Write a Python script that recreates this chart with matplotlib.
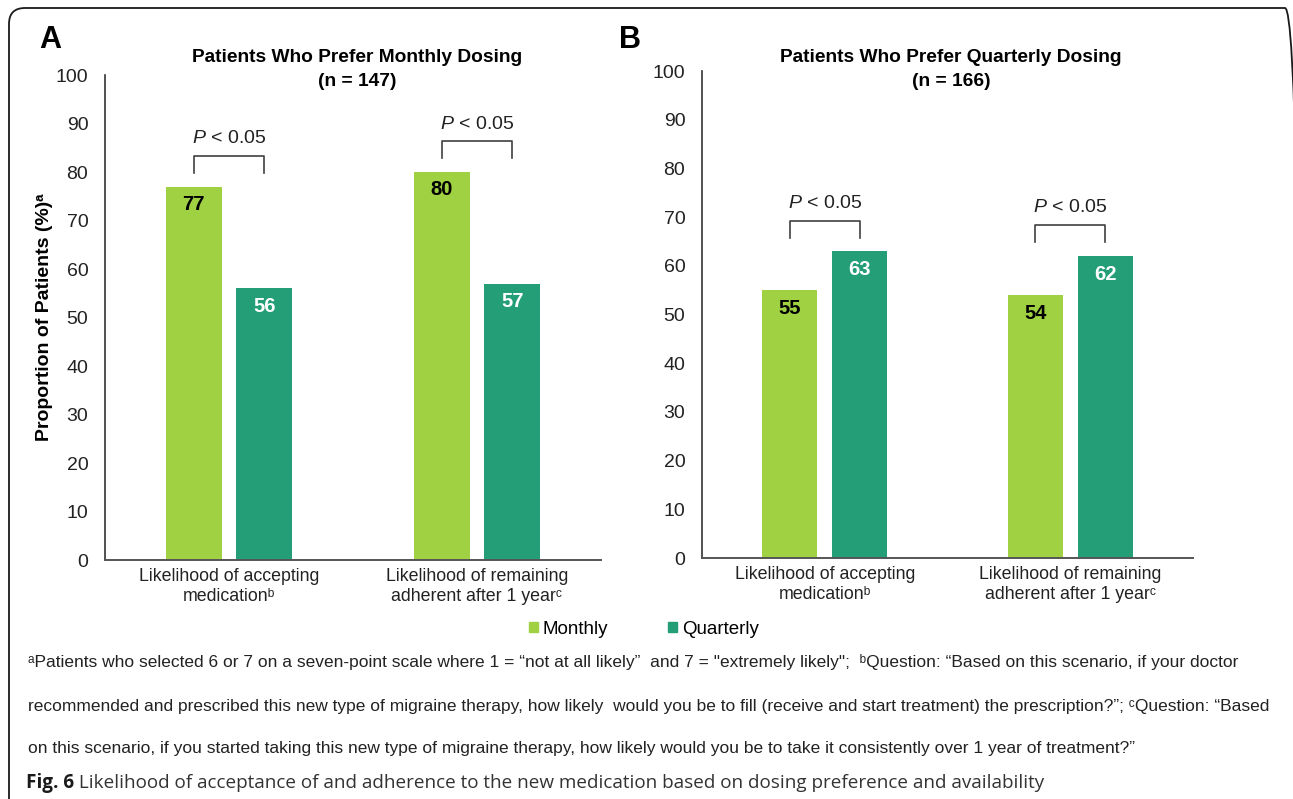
import numpy as np
import matplotlib
matplotlib.use("Agg")
from matplotlib import pyplot as plt
from matplotlib.patches import FancyBboxPatch

NARROW = ["Liberation Sans Narrow", "Liberation Sans", "DejaVu Sans"]
plt.rcParams["font.family"] = NARROW
plt.rcParams["mathtext.fontset"] = "custom"
plt.rcParams["mathtext.rm"] = "Liberation Sans"
plt.rcParams["mathtext.it"] = "Liberation Sans:italic"

categories = ["Likelihood of accepting\nmedication\u1d47",
              "Likelihood of remaining\nadherent after 1 year\u1d9c"]
series_names = ["Monthly", "Quarterly"]

# Panel A: patients who prefer monthly dosing
monthly_group_monthly = [77, 80]
monthly_group_quarterly = [56, 57]
# Panel B: patients who prefer quarterly dosing
quarterly_group_monthly = [55, 54]
quarterly_group_quarterly = [63, 62]

titles = [("Patients Who Prefer Monthly Dosing", "(n = 147)"),
          ("Patients Who Prefer Quarterly Dosing", "(n = 166)")]
panel_letters = ["A", "B"]
p_text = r"$\mathit{P}$ < 0.05"

footnotes = [
    "\u1d43Patients who selected 6 or 7 on a seven-point scale where 1 = \u201cnot at all likely\u201d  and 7 = \"extremely likely\";  "
    "\u1d47Question: \u201cBased on this scenario, if your doctor",
    "recommended and prescribed this new type of migraine therapy, how likely  would you be to fill (receive and start treatment) "
    "the prescription?\u201d; \u1d9cQuestion: \u201cBased",
    "on this scenario, if you started taking this new type of migraine therapy, how likely would you be to take it consistently "
    "over 1 year of treatment?\u201d",
]
caption_bold = "Fig. 6"
caption_rest = " Likelihood of acceptance of and adherence to the new medication based on dosing preference and availability"

C_MONTHLY = "#9fd142"
C_QUARTERLY = "#239e76"
AXIS_C = "#555555"

W, H = 1293, 799
fig = plt.figure(figsize=(W / 100, H / 100), dpi=100, facecolor="white")

# rounded frame around the whole figure (bottom and right edge run off the canvas)
frame = FancyBboxPatch((0.09, -0.5), 12.92, 8.41,
                       boxstyle="round,pad=0,rounding_size=0.16",
                       transform=fig.dpi_scale_trans, fill=False,
                       ec="#1a1a1a", lw=1.3, clip_on=False)
fig.add_artist(frame)

panels = [
    ([0.0812, 0.2991, 0.3836, 0.6070], monthly_group_monthly, monthly_group_quarterly, 357),
    ([0.5429, 0.3016, 0.3798, 0.6095], quarterly_group_monthly, quarterly_group_quarterly, 951),
]

x = np.arange(len(categories))
width = 0.225
offset = 0.142

for i, (rect, vals_m, vals_q, title_x) in enumerate(panels):
    ax = fig.add_axes(rect)
    ax.bar(x - offset, vals_m, width, color=C_MONTHLY, label=series_names[0])
    ax.bar(x + offset, vals_q, width, color=C_QUARTERLY, label=series_names[1])
    ax.set_xlim(-0.5, 1.5)
    ax.set_ylim(0, 100)
    ax.set_yticks(range(0, 101, 10))
    ax.set_xticks(x)
    ax.set_xticklabels(categories, fontsize=12.8, linespacing=1.2, color="#222222")
    ax.tick_params(axis="y", length=0, pad=12, labelsize=14, labelcolor="#222222")
    ax.tick_params(axis="x", length=0, pad=6)
    for s in ("top", "right"):
        ax.spines[s].set_visible(False)
    ax.spines["left"].set_color("#333333")
    ax.spines["bottom"].set_color(AXIS_C)
    ax.spines["left"].set_linewidth(1.2)
    ax.spines["bottom"].set_linewidth(1.4)

    # two-line panel title
    for line, ypx in zip(titles[i], (58, 82)):
        fig.text(title_x / W, 1 - ypx / H, line, fontsize=13.8, fontweight="bold",
                 ha="center", va="center")

    # value labels inside the bars
    for xi, v in zip(x - offset, vals_m):
        ax.text(xi, v - 3.7, f"{v}", ha="center", va="center",
                fontsize=14.5, fontweight="bold", color="black")
    for xi, v in zip(x + offset, vals_q):
        ax.text(xi, v - 3.7, f"{v}", ha="center", va="center",
                fontsize=14.5, fontweight="bold", color="white")

    # significance brackets
    for xi, a, b in zip(x, vals_m, vals_q):
        top = max(a, b) + 6.3
        leg = top - 3.5
        ax.plot([xi - offset, xi - offset, xi + offset, xi + offset],
                [leg, top, top, leg], color="#404040", lw=1.2, clip_on=False)
        ax.text(xi, top + 3.6, p_text, ha="center", va="center", fontsize=14,
                color="#222222")

    if i == 0:
        ax.set_ylabel("Proportion of Patients (%)\u1d43", fontsize=14, fontweight="bold",
                      labelpad=2)

# panel letters
fig.text(39 / W, 1 - 40 / H, panel_letters[0], fontsize=22, fontweight="bold",
         family="Liberation Sans", va="center", ha="left")
fig.text(619 / W, 1 - 40 / H, panel_letters[1], fontsize=22, fontweight="bold",
         family="Liberation Sans", va="center", ha="left")

# shared legend
handles = [plt.Rectangle((0, 0), 1, 1, color=C_MONTHLY),
           plt.Rectangle((0, 0), 1, 1, color=C_QUARTERLY)]
fig.legend(handles, series_names, loc="center", bbox_to_anchor=(644 / W, 1 - 629 / H),
           ncol=2, frameon=False, fontsize=13.5, handlelength=0.48, handleheight=0.48,
           handletextpad=0.25, columnspacing=3.2)

# footnotes
for line, ypx in zip(footnotes, [662, 706, 748]):
    fig.text(28 / W, 1 - ypx / H, line, fontsize=12.5, color="#222222",
             va="center", ha="left")

# caption
t = fig.text(26 / W, 1 - 783 / H, caption_bold, fontsize=13.6, fontweight="bold",
             family="Open Sans", color="#1a1a1a", va="center", ha="left")
fig.canvas.draw()
bb = t.get_window_extent()
fig.text(bb.x1 / W, 1 - 783 / H, caption_rest, fontsize=13.6, family="Open Sans",
         color="#333333", va="center", ha="left")

fig.savefig("out.png", dpi=100)
plt.close(fig)
